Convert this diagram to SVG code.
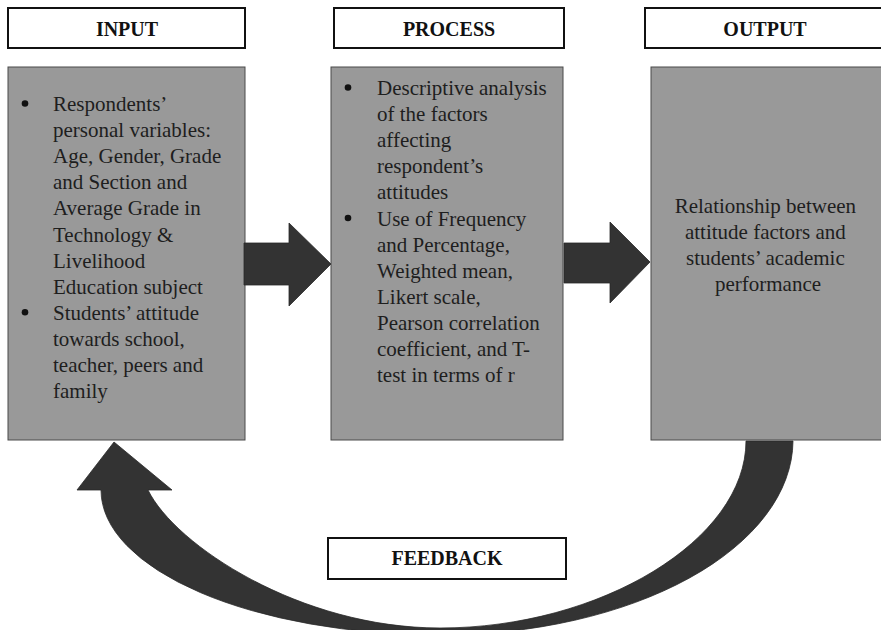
<svg xmlns="http://www.w3.org/2000/svg" width="881" height="630" viewBox="0 0 881 630">
<style>
.hdr{fill:#ffffff;stroke:#111111;stroke-width:2}
.hdrt{font-family:"Liberation Serif","Times New Roman",serif;font-weight:bold;font-size:20px;fill:#111111;text-anchor:middle}
.box{fill:#999999;stroke:#4a4a4a;stroke-width:1}
.bt{font-family:"Liberation Serif","Times New Roman",serif;font-size:21px;fill:#1e1e1e}
.bul{fill:#111111}
.arr{fill:#333333;stroke:#2a2a2a;stroke-width:0.8}
</style>
<rect width="881" height="630" fill="#ffffff"/>

<g id="input-header">
<rect class="hdr" x="8" y="8" width="237" height="40"/>
<text class="hdrt" x="127" y="36">INPUT</text>
</g>
<g id="process-header">
<rect class="hdr" x="334" y="8" width="230" height="40"/>
<text class="hdrt" x="449" y="36">PROCESS</text>
</g>
<g id="output-header">
<rect class="hdr" x="645" y="8" width="240" height="40"/>
<text class="hdrt" x="765" y="36">OUTPUT</text>
</g>

<g id="input">
<rect class="box" x="8" y="67" width="237" height="373"/>
<circle class="bul" cx="25" cy="103.5" r="3.3"/>
<circle class="bul" cx="25" cy="312.3" r="3.3"/>
<text class="bt" x="53" y="111">
<tspan x="53">Respondents’</tspan>
<tspan x="53" dy="26.1">personal variables:</tspan>
<tspan x="53" dy="26.1">Age, Gender, Grade</tspan>
<tspan x="53" dy="26.1">and Section and</tspan>
<tspan x="53" dy="26.1">Average Grade in</tspan>
<tspan x="53" dy="26.1">Technology &amp;</tspan>
<tspan x="53" dy="26.1">Livelihood</tspan>
<tspan x="53" dy="26.1">Education subject</tspan>
<tspan x="53" dy="26.1">Students’ attitude</tspan>
<tspan x="53" dy="26.1">towards school,</tspan>
<tspan x="53" dy="26.1">teacher, peers and</tspan>
<tspan x="53" dy="26.1">family</tspan>
</text>
</g>

<g id="process">
<rect class="box" x="331" y="67" width="232" height="373"/>
<circle class="bul" cx="348" cy="87.5" r="3.3"/>
<circle class="bul" cx="348" cy="218" r="3.3"/>
<text class="bt" x="377" y="95">
<tspan x="377">Descriptive analysis</tspan>
<tspan x="377" dy="26.1">of the factors</tspan>
<tspan x="377" dy="26.1">affecting</tspan>
<tspan x="377" dy="26.1">respondent’s</tspan>
<tspan x="377" dy="26.1">attitudes</tspan>
<tspan x="377" dy="26.1">Use of Frequency</tspan>
<tspan x="377" dy="26.1">and Percentage,</tspan>
<tspan x="377" dy="26.1">Weighted mean,</tspan>
<tspan x="377" dy="26.1">Likert scale,</tspan>
<tspan x="377" dy="26.1">Pearson correlation</tspan>
<tspan x="377" dy="26.1">coefficient, and T-</tspan>
<tspan x="377" dy="26.1">test in terms of r</tspan>
</text>
</g>

<g id="output">
<rect class="box" x="651" y="67" width="234" height="373"/>
<text class="bt" x="768" y="213" text-anchor="middle">
<tspan x="768">Relationship between</tspan>
<tspan x="768" dy="26.1">attitude factors and</tspan>
<tspan x="768" dy="26.1">students’ academic</tspan>
<tspan x="768" dy="26.1">performance</tspan>
</text>
</g>

<g id="feedback">
<rect class="hdr" x="328" y="538" width="238" height="41"/>
<text class="hdrt" x="447" y="565">FEEDBACK</text>
</g>

<g id="connectors">
<path class="arr" d="M244 243 L289 243 L289 223 L331 264 L289 306 L289 285 L244 285 Z"/>
<path class="arr" d="M564 243 L610 243 L610 222 L650 262 L610 303 L610 283 L564 283 Z"/>
<path class="arr" d="M793 441 A353 195 0 0 1 440 635 A339 145 0 0 1 101 490 L77 490 L114 442 L172 490 L148 490 C175 545 300 628 440 628 C600 628 746 540 746 441 Z"/>
</g>
</svg>
